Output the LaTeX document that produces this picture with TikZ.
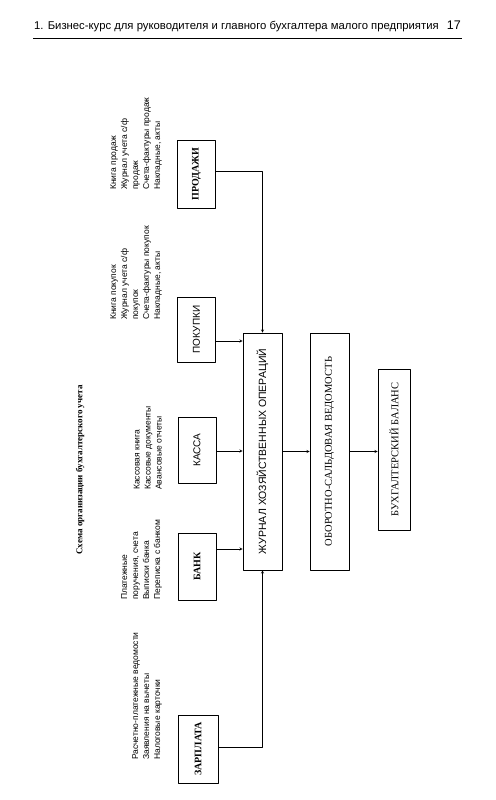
\documentclass[tikz,border=0pt]{standalone}
\usepackage{fontspec}
\setmainfont{Liberation Serif}
\setsansfont{Liberation Sans}
\usetikzlibrary{arrows}
\tikzset{
  unit/.style={draw, line width=0.8pt, rotate=90, inner sep=2pt, minimum height=38pt},
  sfunit/.style={unit, font=\sffamily\fontsize{10}{12}\selectfont},
  rmunit/.style={unit, font=\bfseries\fontsize{10}{12}\selectfont},
  notes/.style={rotate=90, anchor=south west, align=left, inner sep=0pt,
    font=\sffamily\fontsize{8.5}{11}\selectfont},
}
\begin{document}
\begin{tikzpicture}[x=1pt, y=-1pt, line join=round, >=stealth]
  \useasboundingbox (0,0) rectangle (495,800);
  % header of the page
  \node[anchor=base west, inner sep=0pt, font=\sffamily\fontsize{11.3}{12}\selectfont] (head) at (34,30)
    {1. Бизнес-курс для руководителя и главного бухгалтера малого предприятия};
  \node[anchor=base east, inner sep=0pt, font=\sffamily\fontsize{12.5}{13}\selectfont] (pagenum) at (461,30) {17};
  \draw[line width=0.8pt] (33,38) -- (462,38);
  % title
  \node[rotate=90, font=\bfseries\fontsize{9}{11}\selectfont] (title) at (80,470)
    {Схема организации бухгалтерского учета};
  % sources
  \node[rmunit, minimum width=68pt] (prodazhi) at (196.5,174) {ПРОДАЖИ};
  \node[sfunit, minimum width=65pt] (pokupki) at (196.5,329.5) {ПОКУПКИ};
  \node[sfunit, minimum width=66pt] (kassa) at (197,450) {КАССА};
  \node[rmunit, minimum width=67pt] (bank) at (197,566.5) {БАНК};
  \node[rmunit, minimum width=68pt, minimum height=40pt] (zarplata) at (198,749) {ЗАРПЛАТА};
  % documents
  \node[notes] (prodazhi notes) at (162,190)
    {Книга продаж\\Журнал учета с/ф\\продаж\\Счета-фактуры продаж\\Накладные, акты};
  \node[notes] (pokupki notes) at (162,320)
    {Книга покупок\\Журнал учета с/ф\\покупок\\Счета-фактуры покупок\\Накладные, акты};
  \node[notes] (kassa notes) at (162,490)
    {Кассовая книга\\Кассовые документы\\Авансовые отчеты};
  \node[notes] (bank notes) at (162,600)
    {Платежные\\поручения, счета\\Выписки банка\\Переписка с банком};
  \node[notes] (zarplata notes) at (162,760)
    {Расчетно-платежные ведомости\\Заявления на вычеты\\Налоговые карточки};
  % registers
  \node[sfunit, minimum width=237pt, minimum height=39pt, font=\sffamily\fontsize{10.5}{12}\selectfont] (zhurnal) at (262.5,451.5)
    {ЖУРНАЛ ХОЗЯЙСТВЕННЫХ ОПЕРАЦИЙ};
  \node[unit, minimum width=237pt, minimum height=39pt, font=\fontsize{10.5}{12}\selectfont] (osv) at (329.5,451.5)
    {ОБОРОТНО-САЛЬДОВАЯ ВЕДОМОСТЬ};
  \node[unit, minimum width=161pt, minimum height=32pt, font=\fontsize{10.5}{12}\selectfont] (balans) at (394,449.5)
    {БУХГАЛТЕРСКИЙ БАЛАНС};
  % flows
  \draw[->] ([yshift=3pt]prodazhi.south) -| (zhurnal.east);
  \draw[->] ([yshift=-11.5pt]pokupki.south) -- ([yshift=-11.5pt]pokupki.south -| zhurnal.north);
  \draw[->] ([yshift=-1pt]kassa.south) -- ([yshift=-1pt]kassa.south -| zhurnal.north);
  \draw[->] ([yshift=17.5pt]bank.south) -- ([yshift=17.5pt]bank.south -| zhurnal.north);
  \draw[->] ([yshift=2pt]zarplata.south) -| (zhurnal.west);
  \draw[->] (zhurnal.south) -- (osv.north);
  \draw[->] (osv.south) -- (osv.south -| balans.north);
\end{tikzpicture}
\end{document}
